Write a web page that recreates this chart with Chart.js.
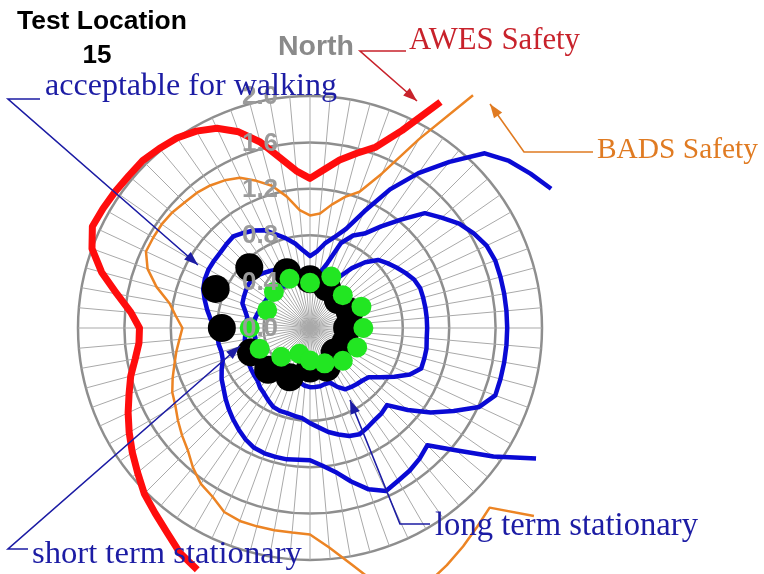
<!DOCTYPE html>
<html>
<head>
<meta charset="utf-8">
<title>Test Location 15</title>
<script src="https://cdn.jsdelivr.net/npm/chart.js@4.4.1/dist/chart.umd.min.js"></script>
<style>
  html, body { margin: 0; padding: 0; background: #ffffff; }
  #wrap { width: 764px; height: 574px; }
</style>
</head>
<body>
<div id="wrap"><canvas id="chart" width="764" height="574"></canvas></div>
<script>
// Wind directions, degrees clockwise from North (one spoke every 5 degrees)
const directions = [
  0, 5, 10, 15, 20, 25, 30, 35, 40, 45, 50, 55,
  60, 65, 70, 75, 80, 85, 90, 95, 100, 105, 110, 115,
  120, 125, 130, 135, 140, 145, 150, 155, 160, 165, 170, 175,
  180, 185, 190, 195, 200, 205, 210, 215, 220, 225, 230, 235,
  240, 245, 250, 255, 260, 265, 270, 275, 280, 285, 290, 295,
  300, 305, 310, 315, 320, 325, 330, 335, 340, 345, 350, 355
];

// Ring values of the radial axis
const ringValues = [0.0, 0.4, 0.8, 1.2, 1.6, 2.0];

// AWES safety criterion (open curve)
const awesSafety = [
  1.29, 1.37, 1.47, 1.56, 1.66, 1.88, 2.25, null, null, null, null, null,
  null, null, null, null, null, null, null, null, null, null, null, null,
  null, null, null, null, null, null, null, null, null, null, null, null,
  null, null, null, null, null, 2.30, 2.24, 2.15, 2.08, 2.02, 1.94, 1.87,
  1.80, 1.73, 1.66, 1.60, 1.53, 1.48, 1.47, 1.55, 1.69, 1.86, 2.00, 2.07,
  2.06, 2.05, 2.04, 2.04, 2.02, 2.00, 1.96, 1.90, 1.80, 1.66, 1.49, 1.36
];

// BADS safety criterion (open curve)
const badsSafety = [
  0.97, 0.99, 1.08, 1.17, 1.25, 1.47, 1.88, 2.45, null, null, null, null,
  null, null, null, null, null, null, null, null, null, null, null, null,
  null, null, 2.52, 2.19, 2.24, 2.30, 2.36, 2.42, 2.45, 2.30, 2.07, 1.90,
  1.78, 1.77, 1.77, 1.77, 1.77, 1.75, 1.68, 1.64, 1.57, 1.49, 1.44, 1.39,
  1.34, 1.31, 1.26, 1.21, 1.17, 1.13, 1.10, 1.16, 1.23, 1.37, 1.49, 1.56,
  1.56, 1.56, 1.55, 1.53, 1.52, 1.50, 1.47, 1.43, 1.35, 1.27, 1.15, 1.02
];

// Comfort criteria (blue contours)
const acceptableWalking = [
  0.62, 0.66, 0.74, 0.81, 0.91, 1.11, 1.38, 1.63, 1.87, 2.13, 2.24, 2.32,
  2.40, null, null, null, null, null, null, null, null, null, null, null,
  2.25, 1.93, 1.64, 1.43, 1.47, 1.50, 1.52, 1.55, 1.48, 1.37, 1.26, 1.19,
  1.14, 1.14, 1.15, 1.15, 1.15, 1.14, 1.11, 1.07, 1.03, 0.99, 0.95, 0.91,
  0.88, 0.84, 0.80, 0.79, 0.80, 0.80, 0.81, 0.86, 0.90, 0.94, 0.98, 1.00,
  1.01, 1.01, 1.01, 1.02, 1.03, 1.00, 0.97, 0.93, 0.86, 0.80, 0.74, 0.67
];

const shortTermStationary = [
  0.47, 0.47, 0.48, 0.58, 0.78, 0.88, 0.94, 1.07, 1.22, 1.40, 1.48, 1.57,
  1.63, 1.68, 1.70, 1.70, 1.70, 1.70, 1.70, 1.70, 1.70, 1.70, 1.70, 1.61,
  1.43, 1.27, 1.10, 0.94, 0.96, 0.97, 0.99, 1.01, 0.99, 0.95, 0.91, 0.86,
  0.82, 0.78, 0.77, 0.76, 0.76, 0.75, 0.72, 0.69, 0.67, 0.64, 0.63, 0.62,
  0.61, 0.60, 0.59, 0.58, 0.57, 0.56, 0.56, 0.55, 0.55, 0.58, 0.62, 0.63,
  0.64, 0.65, 0.65, 0.64, 0.62, 0.60, 0.58, 0.56, 0.54, 0.52, 0.50, 0.48
];

const longTermStationary = [
  0.42, 0.44, 0.46, 0.48, 0.49, 0.50, 0.51, 0.63, 0.74, 0.83, 0.87, 0.91,
  0.95, 0.99, 1.01, 1.01, 1.01, 1.01, 1.01, 1.01, 1.02, 1.02, 1.02, 0.95,
  0.84, 0.74, 0.66, 0.64, 0.63, 0.62, 0.61, 0.56, 0.50, 0.50, 0.51, 0.51,
  0.51, 0.50, 0.48, 0.48, 0.48, 0.48, 0.48, 0.48, 0.48, 0.48, 0.48, 0.48,
  0.48, 0.48, 0.48, 0.48, 0.48, 0.48, 0.48, 0.48, 0.48, 0.47, 0.46, 0.45,
  0.45, 0.45, 0.44, 0.44, 0.43, 0.43, 0.42, 0.42, 0.42, 0.42, 0.42, 0.42
];

// Measured wind speed ratios at the 16 compass directions
const dotDirections = [0, 22.5, 45, 67.5, 90, 112.5, 135, 157.5,
                       180, 202.5, 225, 247.5, 270, 292.5, 315, 337.5];
const measuredBlack = [0.42, 0.38, 0.34, 0.37, 0.32, 0.33, 0.30, 0.37,
                       0.35, 0.46, 0.51, 0.55, 0.76, 0.88, 0.74, 0.52];
const measuredGreen = [0.39, 0.48, 0.40, 0.48, 0.46, 0.44, 0.40, 0.33,
                       0.28, 0.24, 0.35, 0.47, 0.52, 0.40, 0.44, 0.46];

// Place the 16-direction values onto a 5-degree spoke grid that starts at `offset` degrees
function onSpokes(values, offset) {
  const out = directions.map(() => null);
  dotDirections.forEach((d, j) => {
    const k = (d - offset) / 5;
    if (Math.abs(k - Math.round(k)) < 1e-6 && k >= 0) out[Math.round(k)] = values[j];
  });
  return out;
}

const lineStyle = (color, width) => ({
  borderColor: color, borderWidth: width, backgroundColor: color,
  fill: false, pointRadius: 0, pointHoverRadius: 0, tension: 0,
  spanGaps: false, clip: false, borderJoinStyle: 'round', order: 3
});
const dotStyle = (color, radius, axis, order) => ({
  rAxisID: axis, showLine: false, fill: false, clip: false,
  pointRadius: radius, pointHoverRadius: radius, pointBorderWidth: 0,
  pointBackgroundColor: color, borderColor: color, backgroundColor: color, order
});

const BLUE = '#0a0ad4';

// Text labels, leader lines and the axis numbers drawn over the plot
const annotations = {
  id: 'annotations',
  afterDatasetsDraw(chart) {
    const ctx = chart.ctx;
    const r = chart.scales.r;
    ctx.save();

    // ring values, stacked along the North spoke
    ctx.font = 'bold 26px "Liberation Sans", Arial, sans-serif';
    ctx.fillStyle = '#9b9b9b';
    ctx.textAlign = 'center';
    ctx.textBaseline = 'middle';
    r.ticks.forEach(t => {
      ctx.fillText(t.value.toFixed(1), r.xCenter - 50, r.yCenter - r.getDistanceFromCenterForValue(t.value) + 1);
    });

    function fitted(text, x, baseline, width, weight, family, color, align) {
      ctx.font = `${weight} 100px ${family}`;
      const size = 100 * width / ctx.measureText(text).width;
      ctx.font = `${weight} ${size.toFixed(2)}px ${family}`;
      ctx.fillStyle = color;
      ctx.textAlign = align || 'left';
      ctx.textBaseline = 'alphabetic';
      ctx.fillText(text, x, baseline);
    }
    function leader(pts, color) {
      ctx.strokeStyle = color;
      ctx.fillStyle = color;
      ctx.lineWidth = 1.6;
      ctx.beginPath();
      ctx.moveTo(pts[0][0], pts[0][1]);
      for (let i = 1; i < pts.length; i++) ctx.lineTo(pts[i][0], pts[i][1]);
      ctx.stroke();
      const [x1, y1] = pts[pts.length - 2];
      const [x2, y2] = pts[pts.length - 1];
      const a = Math.atan2(y2 - y1, x2 - x1);
      const L = 14, W = 5;
      ctx.beginPath();
      ctx.moveTo(x2, y2);
      ctx.lineTo(x2 - L * Math.cos(a) + W * Math.sin(a), y2 - L * Math.sin(a) - W * Math.cos(a));
      ctx.lineTo(x2 - L * Math.cos(a) - W * Math.sin(a), y2 - L * Math.sin(a) + W * Math.cos(a));
      ctx.closePath();
      ctx.fill();
    }

    const sans = '"Liberation Sans", Arial, sans-serif';
    const serif = '"Liberation Serif", "Times New Roman", serif';
    const red = '#c8222b', orange = '#e07b22', navy = '#1c1ca4';

    fitted('Test Location', 17, 29, 170, 'bold', sans, '#000000');
    fitted('15', 97, 63, 29, 'bold', sans, '#000000', 'center');
    fitted('North', 278, 55, 76, 'bold', sans, '#8a8a8a');

    leader([[406, 51], [360, 51], [417, 101]], red);
    fitted('AWES Safety', 409, 49, 171, 'normal', serif, red);

    leader([[593, 152], [524, 152], [490, 104]], orange);
    fitted('BADS Safety', 597, 158, 161, 'normal', serif, orange);

    leader([[40, 99], [8, 99], [198, 265]], navy);
    fitted('acceptable for walking', 45, 95, 292, 'normal', serif, navy);

    leader([[28, 549], [8, 549], [240, 346]], navy);
    fitted('short term stationary', 32, 563, 270, 'normal', serif, navy);

    leader([[430, 524], [400, 524], [350, 400]], navy);
    fitted('long term stationary', 435, 535, 263, 'normal', serif, navy);

    ctx.restore();
  }
};

new Chart(document.getElementById('chart'), {
  type: 'radar',
  data: {
    labels: directions.map(d => d + '°'),
    datasets: [
      Object.assign({ label: 'measured (green)', data: onSpokes(measuredGreen, 0) }, dotStyle('#22e622', 10, 'r', 0)),
      Object.assign({ label: 'measured (green)', data: onSpokes(measuredGreen, 2.5) }, dotStyle('#22e622', 10, 'r2', 0)),
      Object.assign({ label: 'measured (black)', data: onSpokes(measuredBlack, 0) }, dotStyle('#000000', 14, 'r', 1)),
      Object.assign({ label: 'measured (black)', data: onSpokes(measuredBlack, 2.5) }, dotStyle('#000000', 14, 'r2', 1)),
      Object.assign({ label: 'long term stationary', data: longTermStationary }, lineStyle(BLUE, 4.5)),
      Object.assign({ label: 'short term stationary', data: shortTermStationary }, lineStyle(BLUE, 4.5)),
      Object.assign({ label: 'acceptable for walking', data: acceptableWalking }, lineStyle(BLUE, 4.5)),
      Object.assign({ label: 'BADS Safety', data: badsSafety }, lineStyle('#ec8424', 2.5)),
      Object.assign({ label: 'AWES Safety', data: awesSafety }, lineStyle('#ff0d0d', 7))
    ]
  },
  options: {
    responsive: false,
    devicePixelRatio: 1,
    animation: false,
    events: [],
    layout: { padding: { left: 78, top: 96, right: 222, bottom: 14 } },
    plugins: { legend: { display: false }, tooltip: { enabled: false }, title: { display: false } },
    scales: {
      r: {
        type: 'radialLinear',
        min: 0, max: 2.0,
        startAngle: 0,
        afterBuildTicks: s => { s.ticks = ringValues.map(v => ({ value: v })); },
        ticks: { display: false },
        pointLabels: { display: false },
        grid: { circular: true, color: '#8e8e8e', lineWidth: 2.5 },
        angleLines: { display: true, color: '#a9a9a9', lineWidth: 1 }
      },
      r2: {
        type: 'radialLinear',
        min: 0, max: 2.0,
        startAngle: 2.5,
        ticks: { display: false },
        pointLabels: { display: false },
        grid: { display: false },
        angleLines: { display: false }
      }
    }
  },
  plugins: [annotations]
});
</script>
</body>
</html>
